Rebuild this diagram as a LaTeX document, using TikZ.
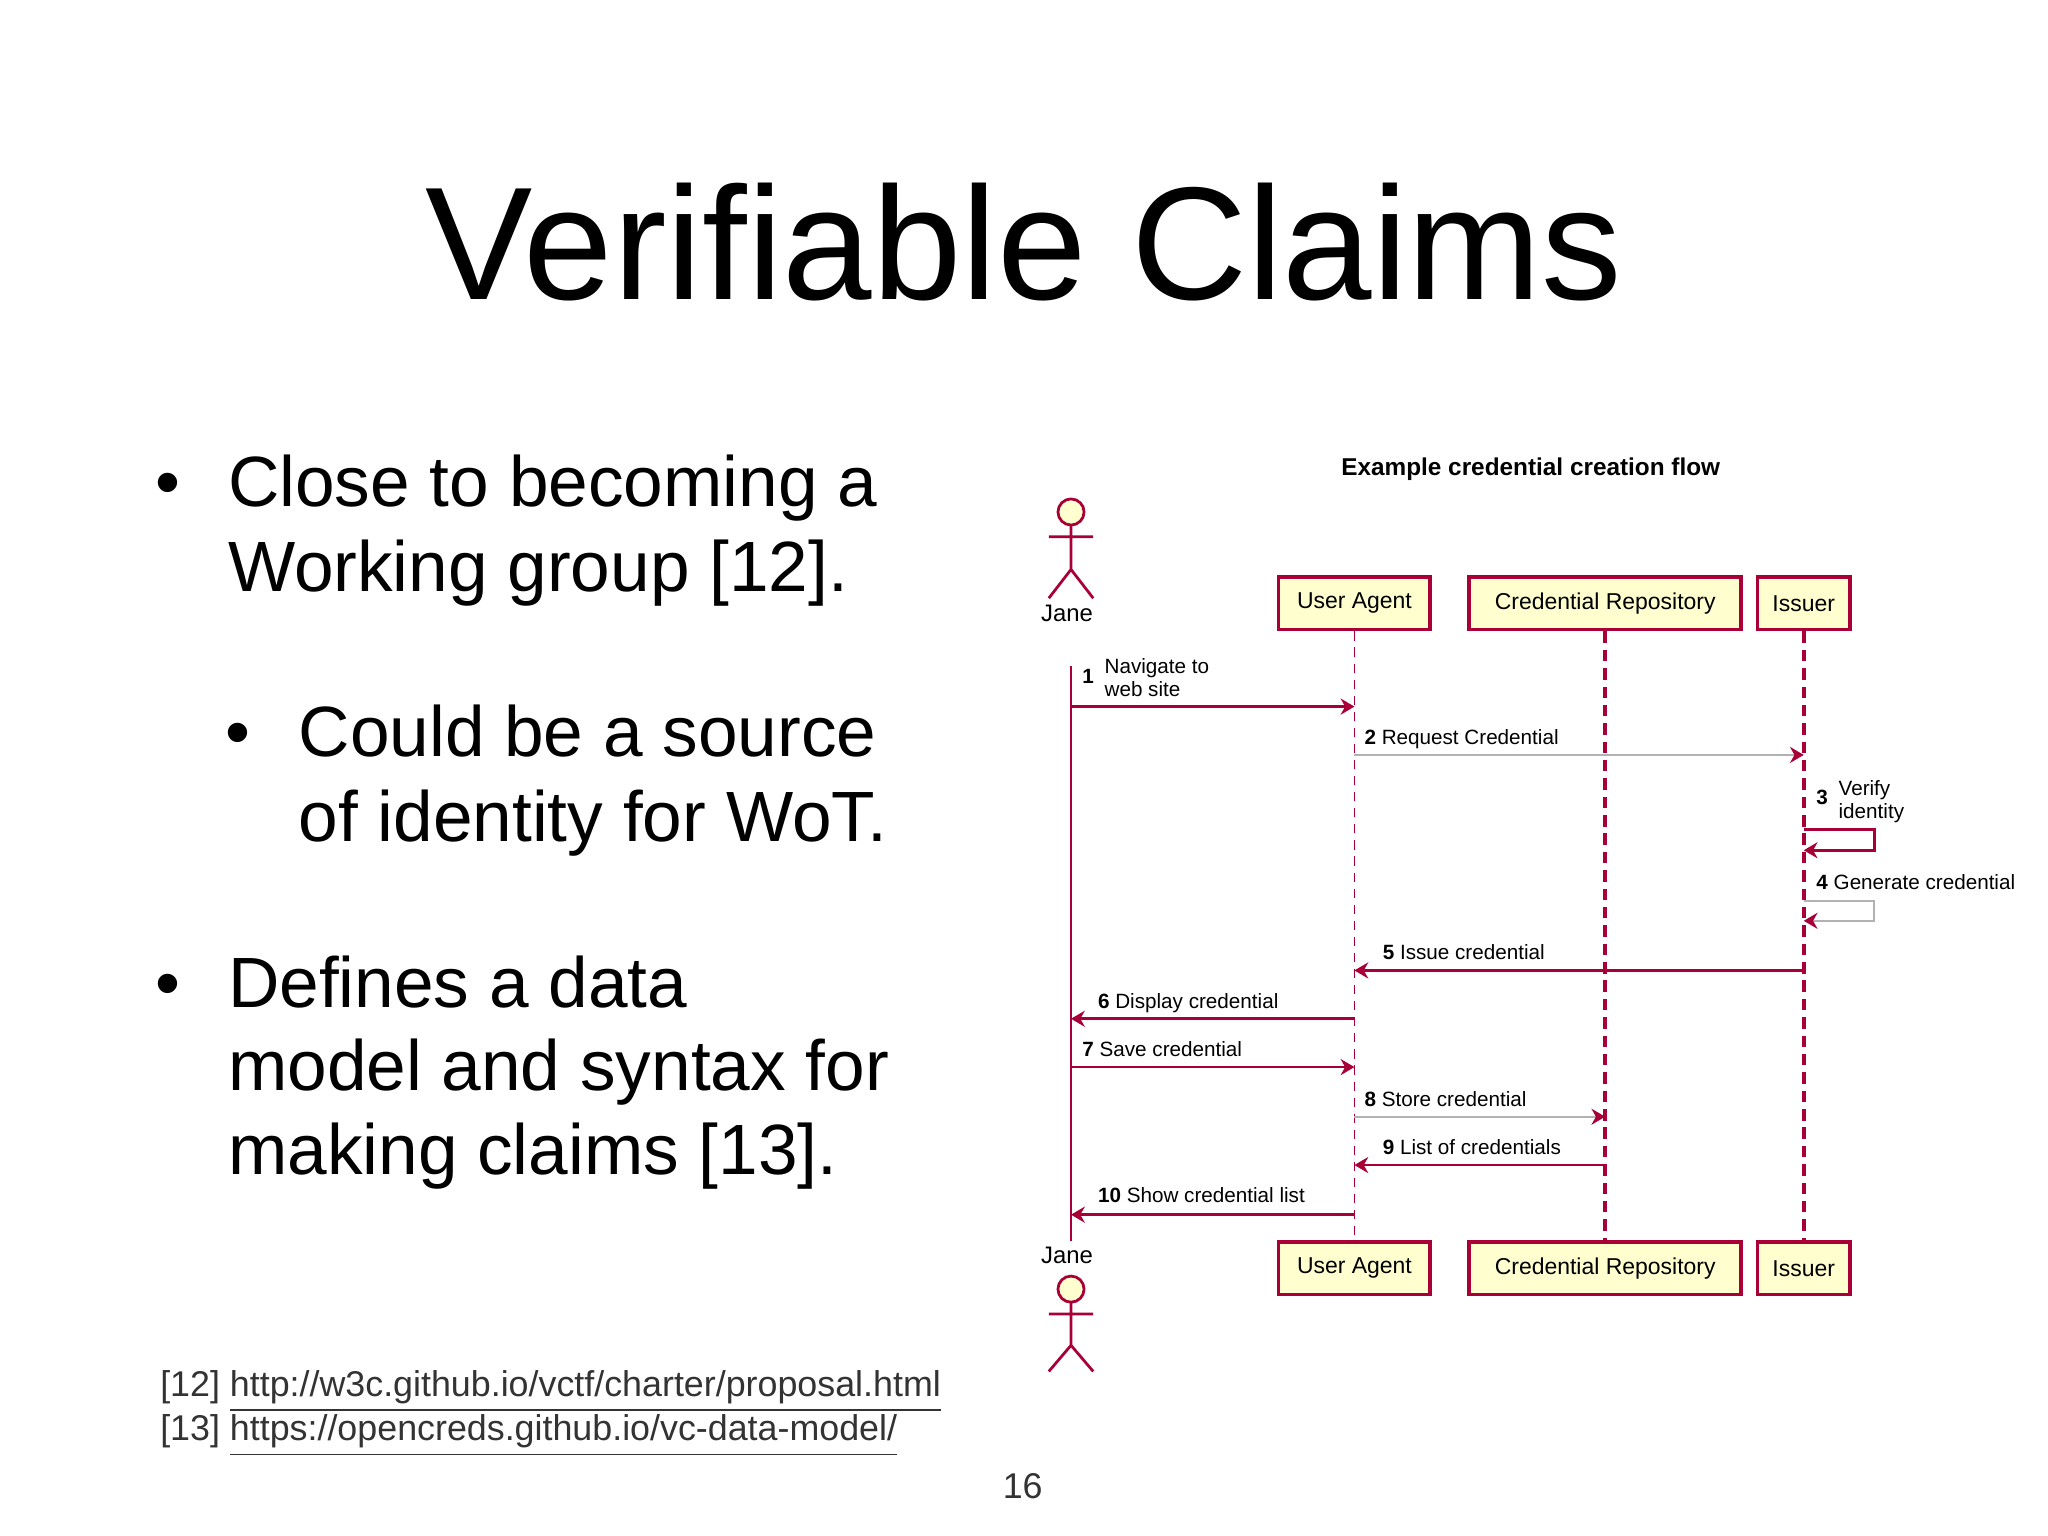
\documentclass[tikz,border=0pt]{standalone}
\usepackage{fontspec}
\setmainfont{Liberation Sans}
\usetikzlibrary{arrows.meta}
\definecolor{pr}{HTML}{A80036}
\definecolor{pf}{HTML}{FEFECE}
\definecolor{fg}{HTML}{333333}
\tikzset{
 x=0.01cm,y=-0.01cm,
 title/.style={font=\fontsize{35}{38}\selectfont, anchor=center},
 btxt/.style={font=\fontsize{15.5}{18}\selectfont, anchor=base west, inner sep=0},
 foot/.style={font=\fontsize{7.8}{9}\selectfont, text=fg, anchor=base west, inner sep=0},
 part/.style={draw=pr, line width=0.8pt, fill=pf, minimum height=0.4cm, inner sep=0, font=\fontsize{5}{6}\selectfont},
 lbl/.style={font=\fontsize{4.5}{5}\selectfont, anchor=base west, inner sep=0, align=left},
 msg/.style={draw=pr, line width=0.6pt, -{Stealth[length=3pt,width=3.5pt]}},
 msgt/.style={draw=gray!60, line width=0.4pt, -{Stealth[length=3pt,width=3.5pt,color=pr]}},
 lifeA/.style={draw=pr, line width=0.4pt, dash pattern=on 2pt off 1.5pt},
 lifeB/.style={draw=pr, line width=0.9pt, dash pattern=on 2.5pt off 1.5pt},
 actor/.style={draw=pr, line width=0.6pt}
}
\begin{document}
\begin{tikzpicture}
\useasboundingbox (0,0) rectangle (1568,1176);
\node[title] (t) at (784,185) {Verifiable Claims};
% bullets
\node[btxt] (b1) at (118,388) {\textbullet};
\node[btxt] (b1a) at (174,388) {Close to becoming a};
\node[btxt] (b1b) at (174,453) {Working group [12].};
\node[btxt] (b2) at (172,579) {\textbullet};
\node[btxt] (b2a) at (228,579) {Could be a source};
\node[btxt] (b2b) at (228,644) {of identity for WoT.};
\node[btxt] (b3) at (118,771) {\textbullet};
\node[btxt] (b3a) at (174,771) {Defines a data};
\node[btxt] (b3b) at (174,835) {model and syntax for};
\node[btxt] (b3c) at (174,899) {making claims [13].};
% footnotes
\node[foot] (f1) at (122,1069) {[12] \underline{http://w3c.github.io/vctf/charter/proposal.html}};
\node[foot] (f2) at (122,1103) {[13] \underline{https://opencreds.github.io/vc-data-model/}};
\node[foot,anchor=base] (pg) at (783,1147) {16};
% diagram title
\node[font=\fontsize{5.3}{6}\selectfont\bfseries] (dt) at (1172,359) {Example credential creation flow};
% participants
\node[part, minimum width=1.16cm] (ua1) at (1037,462) {User Agent};
\node[part, minimum width=2.08cm] (cr1) at (1229,462) {Credential Repository};
\node[part, minimum width=0.71cm] (is1) at (1381,462) {Issuer};
\node[part, minimum width=1.16cm] (ua2) at (1037,971) {User Agent};
\node[part, minimum width=2.08cm] (cr2) at (1229,971) {Credential Repository};
\node[part, minimum width=0.71cm] (is2) at (1381,971) {Issuer};
\coordinate (j1) at (820,510);
\coordinate (j2) at (820,950);
% lifelines
\draw[draw=pr, line width=0.4pt] (j1) -- (j2);
\draw[lifeA] (ua1.south) -- (ua2.north);
\draw[lifeB] (cr1.south) -- (cr2.north);
\draw[lifeB] (is1.south) -- (is2.north);
% actors
\node[font=\fontsize{5.2}{6}\selectfont] (jn1) at (817,470) {Jane};
\node[font=\fontsize{5.2}{6}\selectfont] (jn2) at (817,961) {Jane};
\draw[actor, fill=pf] (820,392) circle (10);
\draw[actor] (820,402) -- (820,436) (803,411) -- (837,411) (803,458) -- (820,436) -- (837,458);
\draw[actor, fill=pf] (820,987) circle (10);
\draw[actor] (820,997) -- (820,1030) (803,1006) -- (837,1006) (803,1050) -- (820,1030) -- (837,1050);
% messages
\foreach \n/\y in {1/541,7/817} {\coordinate (js\n) at (820,\y); \coordinate (ue\n) at (1037,\y);}
\draw[msg] (js1) -- (ue1);
\node[lbl,font=\fontsize{4.5}{5}\selectfont\bfseries] (l1) at (828,523) {1};
\node[lbl] (l1t) at (845,533) {Navigate to\\web site};
\coordinate (u2) at (1037,578); \coordinate (i2) at (1381,578);
\draw[msgt] (u2) -- (i2);
\node[lbl] (l2) at (1044,570) {\textbf{2} Request Credential};
\coordinate (i3a) at (1381,635); \coordinate (i3b) at (1381,651);
\draw[msg] (i3a) -- (1435,635) -- (1435,651) -- (i3b);
\node[lbl,font=\fontsize{4.5}{5}\selectfont\bfseries] (l3) at (1390,616) {3};
\node[lbl] (l3t) at (1407,627) {Verify\\identity};
\coordinate (i4a) at (1381,690); \coordinate (i4b) at (1381,705);
\draw[msgt] (i4a) -- (1435,690) -- (1435,705) -- (i4b);
\node[lbl] (l4) at (1390,681) {\textbf{4} Generate credential};
\coordinate (i5) at (1381,743); \coordinate (u5) at (1037,743);
\draw[msg] (i5) -- (u5);
\node[lbl] (l5) at (1058,735) {\textbf{5} Issue credential};
\coordinate (u6) at (1037,780); \coordinate (j6) at (820,780);
\draw[msg] (u6) -- (j6);
\node[lbl] (l6) at (840,772) {\textbf{6} Display credential};
\draw[msg] (js7) -- (ue7);
\node[lbl] (l7) at (828,809) {\textbf{7} Save credential};
\coordinate (u8) at (1037,855); \coordinate (c8) at (1229,855);
\draw[msgt] (u8) -- (c8);
\node[lbl] (l8) at (1044,847) {\textbf{8} Store credential};
\coordinate (c9) at (1229,892); \coordinate (u9) at (1037,892);
\draw[msg] (c9) -- (u9);
\node[lbl] (l9) at (1058,884) {\textbf{9} List of credentials};
\coordinate (u10) at (1037,930); \coordinate (j10) at (820,930);
\draw[msg] (u10) -- (j10);
\node[lbl] (l10) at (840,921) {\textbf{10} Show credential list};
\end{tikzpicture}
\end{document}
